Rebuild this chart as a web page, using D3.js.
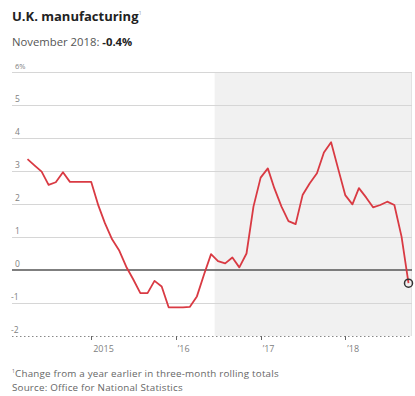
<!DOCTYPE html>
<html>
<head>
<meta charset="utf-8">
<script src="https://cdn.jsdelivr.net/npm/d3@7"></script>
<style>
  body { margin: 0; background: #fff; }
  text { font-family: "Open Sans", "Noto Sans", sans-serif; }
</style>
</head>
<body>
<div id="chart"></div>
<script>
// monthly readings, Apr 2014 .. Oct 2018 (% change from a year earlier)
var months = ["2014-04","2014-05","2014-06","2014-07","2014-08","2014-09","2014-10","2014-11","2014-12",
  "2015-01","2015-02","2015-03","2015-04","2015-05","2015-06","2015-07","2015-08","2015-09","2015-10","2015-11","2015-12",
  "2016-01","2016-02","2016-03","2016-04","2016-05","2016-06","2016-07","2016-08","2016-09","2016-10","2016-11","2016-12",
  "2017-01","2017-02","2017-03","2017-04","2017-05","2017-06","2017-07","2017-08","2017-09","2017-10","2017-11","2017-12",
  "2018-01","2018-02","2018-03","2018-04","2018-05","2018-06","2018-07","2018-08","2018-09","2018-10"];
var values = [3.36, 3.17, 2.98, 2.58, 2.66, 2.96, 2.67, 2.67, 2.67,
  2.67, 1.95, 1.42, 0.93, 0.6, 0.1, -0.28, -0.7, -0.7, -0.33, -0.5, -1.13,
  -1.13, -1.13, -1.12, -0.8, -0.15, 0.48, 0.27, 0.2, 0.38, 0.08, 0.5, 1.92,
  2.8, 3.08, 2.48, 1.92, 1.48, 1.39, 2.27, 2.63, 2.93, 3.56, 3.87, 3.08,
  2.27, 1.99, 2.48, 2.2, 1.9, 1.97, 2.07, 1.97, 1.01, -0.4];
var yTicks = [-2, -1, 0, 1, 2, 3, 4, 5, 6];
var xTicks = ["2015-01", "2016-01", "2017-01", "2018-01"];
var xTickLabels = ["2015", "\u201916", "\u201917", "\u201918"];
var shadeStart = "2016-06-23"; // EU referendum onward

var W = 415, H = 396;
var parse = d3.timeParse("%Y-%m");
var parseDay = d3.timeParse("%Y-%m-%d");

var data = months.map(function(m, i) { return {date: parse(m), value: values[i]}; });

var svg = d3.select("#chart").append("svg")
    .attr("width", W)
    .attr("height", H);

var x = d3.scaleTime()
    .domain([parse("2014-04"), parse("2018-10")])
    .range([27.5, 408.5]);

var y = d3.scaleLinear()
    .domain([-2, 6])
    .range([336, 72]);

var left = 12, right = 412;

// shaded period
svg.append("rect")
    .attr("x", x(parseDay(shadeStart)) - 1.5)
    .attr("y", y(6))
    .attr("width", right - x(parseDay(shadeStart)) + 1.5)
    .attr("height", y(-2) - y(6))
    .attr("fill", "#f1f1f1");

svg.append("line")
    .attr("x1", right - 0.5).attr("x2", right - 0.5)
    .attr("y1", y(6)).attr("y2", y(-2))
    .attr("stroke", "#e2e2e2");

// gridlines
svg.selectAll(".grid")
    .data(yTicks.filter(function(d) { return d > -2 && d != 0; }))
    .enter().append("line")
    .attr("class", "grid")
    .attr("x1", left).attr("x2", right)
    .attr("y1", function(d) { return y(d) + 0.5; })
    .attr("y2", function(d) { return y(d) + 0.5; })
    .attr("stroke", "#d6d6d6")
    .attr("stroke-width", 1);

// dotted baseline
svg.append("line")
    .attr("x1", left).attr("x2", right)
    .attr("y1", y(-2) + 0.5).attr("y2", y(-2) + 0.5)
    .attr("stroke", "#888")
    .attr("stroke-dasharray", "1.5,2.5");

// y labels
svg.selectAll(".ylab")
    .data(yTicks)
    .enter().append("text")
    .attr("class", "ylab")
    .attr("x", function(d) { return d < 0 ? 11 : 15; })
    .attr("y", function(d) { return y(d) - 3; })
    .attr("font-size", function(d) { return d == 6 ? 7.5 : 8.5; })
    .attr("fill", "#808080")
    .text(function(d) { return d == 6 ? "6%" : d; });

// x ticks
svg.selectAll(".xtick")
    .data(xTicks)
    .enter().append("line")
    .attr("x1", function(d) { return Math.round(x(parse(d))) + 0.5; })
    .attr("x2", function(d) { return Math.round(x(parse(d))) + 0.5; })
    .attr("y1", y(-2)).attr("y2", y(-2) + 4)
    .attr("stroke", "#666");

svg.selectAll(".xlab")
    .data(xTicks)
    .enter().append("text")
    .attr("x", function(d) { return x(parse(d)) + 2; })
    .attr("y", 352)
    .attr("font-size", 9)
    .attr("fill", "#808080")
    .text(function(d, i) { return xTickLabels[i]; });

// zero line
svg.append("line")
    .attr("x1", left).attr("x2", right)
    .attr("y1", y(0)).attr("y2", y(0))
    .attr("stroke", "#555")
    .attr("stroke-width", 1.5);

// series
var line = d3.line()
    .x(function(d) { return x(d.date); })
    .y(function(d) { return y(d.value); });

svg.append("path")
    .datum(data)
    .attr("d", line)
    .attr("fill", "none")
    .attr("stroke", "#d93a43")
    .attr("stroke-width", 1.8)
    .attr("stroke-linejoin", "round");

var last = data[data.length - 1];
svg.append("circle")
    .attr("cx", x(last.date))
    .attr("cy", y(last.value))
    .attr("r", 4)
    .attr("fill", "none")
    .attr("stroke", "#333")
    .attr("stroke-width", 1.5);

// titles
var title = svg.append("text")
    .attr("x", 12).attr("y", 21)
    .attr("font-size", 13)
    .attr("font-weight", "bold")
    .attr("fill", "#222")
    .text("U.K. manufacturing");
title.append("tspan")
    .attr("font-size", 5.5)
    .attr("font-weight", "normal")
    .attr("fill", "#999")
    .attr("dy", -6)
    .text("1");

var sub = svg.append("text")
    .attr("x", 12).attr("y", 46)
    .attr("font-size", 11.3)
    .attr("fill", "#555")
    .text("November 2018: ");
sub.append("tspan")
    .attr("font-weight", "bold")
    .attr("fill", "#222")
    .text("-0.4%");

var note = svg.append("text")
    .attr("x", 12).attr("y", 377)
    .attr("font-size", 9.8)
    .attr("letter-spacing", 0.2)
    .attr("fill", "#666");
note.append("tspan")
    .attr("font-size", 5)
    .attr("dy", -4)
    .text("1");
note.append("tspan")
    .attr("dy", 4)
    .text("Change from a year earlier in three-month rolling totals");

svg.append("text")
    .attr("x", 12).attr("y", 391)
    .attr("font-size", 9.8)
    .attr("letter-spacing", 0.2)
    .attr("fill", "#666")
    .text("Source: Office for National Statistics");
</script>
</body>
</html>
